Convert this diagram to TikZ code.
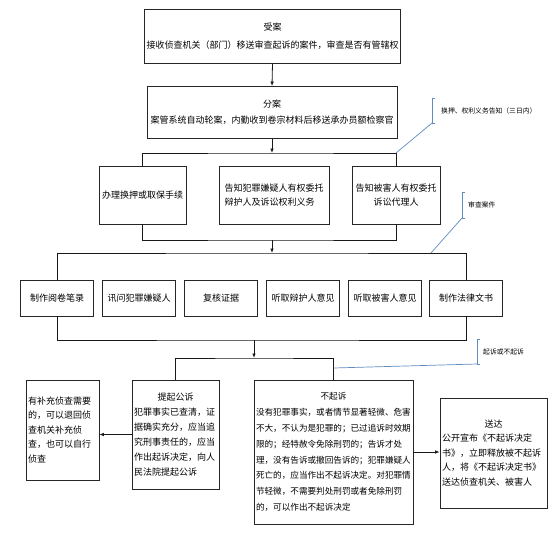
\documentclass[tikz,border=0pt]{standalone}
\usepackage{fontspec}
\newfontfamily\zhfont{Noto Sans CJK SC}
\usetikzlibrary{arrows.meta,calc}
\definecolor{NoteBlue}{RGB}{96,140,192}
\tikzset{
  box/.style={draw=black!85,line width=.8pt,fill=white,inner sep=2pt,align=center,font=\zhfont\fontsize{9}{14.5}\selectfont},
  link/.style={black!90,line width=.8pt},
  note/.style={anchor=west,inner sep=0pt,font=\zhfont\fontsize{6.8}{8}\selectfont},
  callout/.style={NoteBlue,line width=.7pt}
}
\begin{document}
\begin{tikzpicture}[x=1pt,y=-1pt,>={Latex[length=4.5pt,width=3.6pt]}]
\useasboundingbox (0,0) rectangle (554,533);
\node[box,minimum width=255,minimum height=54,font=\zhfont\fontsize{9}{18}\selectfont] (shouan) at (272.5,36){受案\\接收侦查机关（部门）移送审查起诉的案件，审查是否有管辖权};
\node[box,minimum width=250,minimum height=52,font=\zhfont\fontsize{9}{16}\selectfont] (fenan) at (272,112.5){分案\\案管系统自动轮案，内勤收到卷宗材料后移送承办员额检察官};
\node[box,minimum width=87,minimum height=58] (huanya) at (142.5,195){办理换押或取保手续};
\node[box,minimum width=110,minimum height=58,align=left] (gaozhi) at (274,195){告知犯罪嫌疑人有权委托\\辩护人及诉讼权利义务};
\node[box,minimum width=88,minimum height=58] (beihai) at (396,195){告知被害人有权委托\\诉讼代理人};
\node[box,minimum width=73,minimum height=36] (yuejuan) at (57,298){制作阅卷笔录};
\node[box,minimum width=73,minimum height=36] (xunwen) at (139,298){讯问犯罪嫌疑人};
\node[box,minimum width=73,minimum height=36] (fuhe) at (221,298){复核证据};
\node[box,minimum width=73,minimum height=36] (bianhu) at (303,298){听取辩护人意见};
\node[box,minimum width=73,minimum height=36] (tingqu) at (385,298){听取被害人意见};
\node[box,minimum width=73,minimum height=36] (wenshu) at (466,298){制作法律文书};
\node[box,minimum width=73,minimum height=100,text width=69,align=left] (buchong) at (62.5,430){有补充侦查需要\\的，可以退回侦\\查机关补充侦\\查，也可以自行\\侦查};
\node[box,minimum width=87,minimum height=109,text width=83,align=left,font=\zhfont\fontsize{9}{15}\selectfont] (tiqi) at (175.5,434.5){\makebox[\linewidth]{提起公诉}\\犯罪事实已查清，证\\据确实充分，应当追\\究刑事责任的，应当\\作出起诉决定，向人\\民法院提起公诉};
\node[box,minimum width=159,minimum height=144,text width=155,align=left,font=\zhfont\fontsize{8.6}{15.8}\selectfont] (buqi) at (333.5,452){\makebox[\linewidth]{不起诉}\\没有犯罪事实，或者情节显著轻微、危害\\不大，不认为是犯罪的；已过追诉时效期\\限的；经特赦令免除刑罚的；告诉才处\\理，没有告诉或撤回告诉的；犯罪嫌疑人\\死亡的，应当作出不起诉决定。对犯罪情\\节轻微，不需要判处刑罚或者免除刑罚\\的，可以作出不起诉决定};
\node[box,minimum width=107,minimum height=110,text width=103,align=left] (songda) at (493.5,453){\makebox[\linewidth]{送达}\\公开宣布《不起诉决定\\书》，立即释放被不起诉\\人，将《不起诉决定书》\\送达侦查机关、被害人};
\coordinate (top3) at (272,153);\coordinate (bot3) at (272,240);
\coordinate (top4) at (272,253);\coordinate (bot4) at (254,340);\coordinate (top5) at (254,358);
\draw[->,link] (shouan.south) -- (fenan.north);
\draw[->,link] (fenan.south) -- (fenan.south|-top3);
\draw[link] (huanya.north) |- (top3) -| (beihai.north);
\draw[link] (huanya.south) |- (bot3) -| (beihai.south);
\draw[->,link] (bot3) -- (top4);
\draw[link] (yuejuan.north) |- (top4) -| (wenshu.north);
\draw[link] (yuejuan.south) |- (bot4) -| (wenshu.south);
\draw[->,link] (bot4) -- (top5);
\draw[link] (tiqi.north) |- (top5) -| (buqi.north);
\draw[->,link] (tiqi.west) -- (tiqi.west-|buchong.east);
\draw[->,link] (buqi.east) -- (buqi.east-|songda.west);
\node[note] (n1) at (441,110.5){换押、权利义务告知（三日内）};
\node[note] (n2) at (468,205){审查案件};
\node[note] (n3) at (483,352){起诉或不起诉};
\coordinate (c1) at (432,123);\coordinate (c2) at (462,218);\coordinate (c3) at (477,364);
\coordinate (h2) at (431,253);\coordinate (h3) at (333.5,368);
\draw[callout] (435,98) -- (432,98) -- (c1) -- (435,123);\draw[callout] (c1) -- (beihai.north|-top3);
\draw[callout] (465,192) -- (462,192) -- (c2) -- (465,218);\draw[callout] (c2) -- (h2);
\draw[callout] (480,339) -- (477,339) -- (c3) -- (480,364);\draw[callout] (c3) -- (h3);
\end{tikzpicture}
\end{document}
